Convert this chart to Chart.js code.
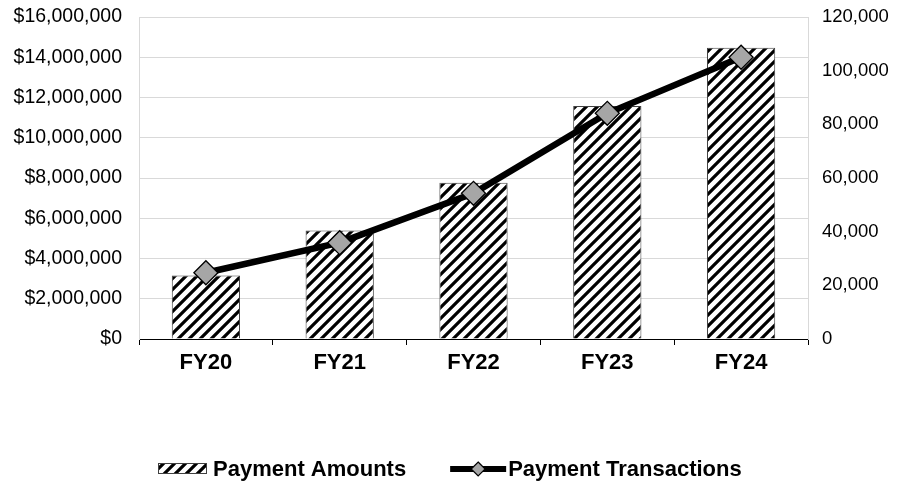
<!DOCTYPE html>
<html>
<head>
<meta charset="utf-8">
<script src="https://cdn.jsdelivr.net/npm/chart.js@4/dist/chart.umd.min.js"></script>
<style>
  html, body { margin: 0; padding: 0; background: #fff; }
  #wrap { width: 898px; height: 482px; }
</style>
</head>
<body>
<div id="wrap"><canvas id="myChart" width="898" height="482"></canvas></div>
<script>
/* Datos */
const years = ['FY20', 'FY21', 'FY22', 'FY23', 'FY24'];
const paymentAmounts = [3150000, 5390000, 7770000, 11580000, 14470000];
const paymentTransactions = [24700, 35900, 54300, 84100, 105000];
const amountTicks = [0, 2000000, 4000000, 6000000, 8000000, 10000000, 12000000, 14000000, 16000000];
const transactionTicks = [0, 20000, 40000, 60000, 80000, 100000, 120000];

const FONT = 'Arial, "Liberation Sans", sans-serif';

/* Trama diagonal para las barras */
function makeHatch() {
    const size = 11;
    const c = document.createElement('canvas');
    c.width = size; c.height = size;
    const g = c.getContext('2d');
    g.fillStyle = '#fff';
    g.fillRect(0, 0, size, size);
    g.strokeStyle = '#000';
    g.lineWidth = 3.2;
    g.beginPath();
    g.moveTo(-2, size + 2); g.lineTo(size + 2, -2);
    g.moveTo(-size / 2 - 2, size / 2 + 2); g.lineTo(size / 2 + 2, -size / 2 - 2);
    g.moveTo(size / 2 - 2, size * 1.5 + 2); g.lineTo(size * 1.5 + 2, size / 2 - 2);
    g.stroke();
    return g.createPattern(c, 'repeat');
}
const hatch = makeHatch();

/* Leyenda propia (iconos como Excel) */
const legendPlugin = {
    id: 'bottomLegend',
    afterDraw(chart) {
        const ctx = chart.ctx;
        const y = 469;
        ctx.save();
        ctx.font = 'bold 22px ' + FONT;
        ctx.textBaseline = 'middle';
        ctx.fillStyle = '#000';
        const barDs = chart.data.datasets.find(d => d.type === 'bar');
        const lineDs = chart.data.datasets.find(d => d.type === 'line');
        let x = 158;
        // barra
        ctx.fillStyle = hatch;
        ctx.fillRect(x, y - 6, 49, 11);
        ctx.strokeStyle = '#404040';
        ctx.lineWidth = 1;
        ctx.strokeRect(x + 0.5, y - 6 + 0.5, 48, 10);
        ctx.fillStyle = '#000';
        ctx.fillText(barDs.label, x + 55, y + 1);
        x += 55 + ctx.measureText(barDs.label).width + 44;
        // línea
        ctx.strokeStyle = '#000';
        ctx.lineWidth = 6;
        ctx.beginPath();
        ctx.moveTo(x, y); ctx.lineTo(x + 56, y);
        ctx.stroke();
        const cx = x + 28;
        ctx.beginPath();
        ctx.moveTo(cx, y - 7); ctx.lineTo(cx + 7, y); ctx.lineTo(cx, y + 7); ctx.lineTo(cx - 7, y);
        ctx.closePath();
        ctx.fillStyle = '#a6a6a6';
        ctx.fill();
        ctx.lineWidth = 1.2;
        ctx.stroke();
        ctx.fillStyle = '#000';
        ctx.fillText(lineDs.label, x + 58, y + 1);
        ctx.restore();
    }
};

const config = {
    data: {
        labels: years,
        datasets: [
            {
                type: 'line',
                label: 'Payment Transactions',
                data: paymentTransactions,
                yAxisID: 'y1',
                order: 1,
                borderColor: '#000',
                borderWidth: 6.5,
                pointStyle: 'rectRot',
                pointRadius: 12,
                pointHoverRadius: 12,
                pointBackgroundColor: '#a6a6a6',
                pointBorderColor: '#000',
                pointBorderWidth: 1.3,
                tension: 0
            },
            {
                type: 'bar',
                label: 'Payment Amounts',
                data: paymentAmounts,
                yAxisID: 'y',
                order: 2,
                backgroundColor: hatch,
                borderColor: '#404040',
                borderWidth: 1,
                barPercentage: 0.51,
                categoryPercentage: 1
            }
        ]
    },
    options: {
        responsive: false,
        animation: false,
        layout: { padding: { top: 17, left: 0, right: 0, bottom: 0 } },
        plugins: {
            legend: { display: false },
            tooltip: { enabled: false }
        },
        scales: {
            x: {
                grid: {
                    offset: true,
                    drawOnChartArea: false,
                    drawTicks: true,
                    tickLength: 6,
                    color: '#000'
                },
                border: { color: '#000', width: 1 },
                ticks: {
                    color: '#000',
                    padding: 5,
                    font: { family: FONT, size: 22, weight: 'bold' }
                },
                afterFit(scale) { scale.height = 143; }
            },
            y: {
                position: 'left',
                min: 0,
                max: 16000000,
                afterBuildTicks(scale) { scale.ticks = amountTicks.map(v => ({ value: v })); },
                grid: { color: '#d9d9d9', drawTicks: false },
                border: { color: '#d9d9d9' },
                ticks: {
                    color: '#000',
                    padding: 17,
                    font: { family: FONT, size: 19.5 },
                    callback: v => '$' + Number(v).toLocaleString('en-US')
                },
                afterFit(scale) { scale.width = 139; scale.paddingTop = 0; scale.paddingBottom = 0; }
            },
            y1: {
                position: 'right',
                min: 0,
                max: 120000,
                afterBuildTicks(scale) { scale.ticks = transactionTicks.map(v => ({ value: v })); },
                grid: { drawOnChartArea: false, drawTicks: false },
                border: { color: '#d9d9d9' },
                ticks: {
                    color: '#000',
                    padding: 14,
                    font: { family: FONT, size: 18.5 },
                    callback: v => Number(v).toLocaleString('en-US')
                },
                afterFit(scale) { scale.width = 90; scale.paddingTop = 0; scale.paddingBottom = 0; }
            }
        }
    },
    plugins: [legendPlugin]
};

const myChart = new Chart(document.getElementById('myChart'), config);
</script>
</body>
</html>
